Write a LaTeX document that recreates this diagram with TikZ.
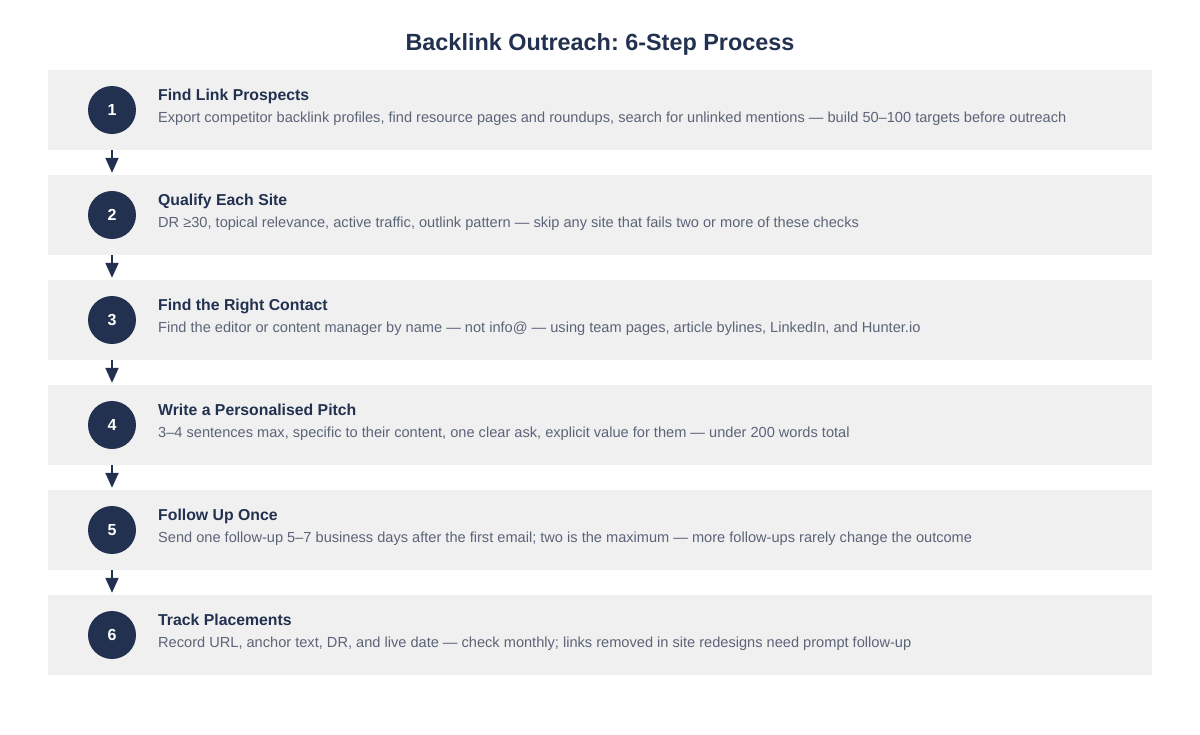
\documentclass[tikz,border=0pt]{standalone}
\usepackage{fontspec}
\setmainfont{Liberation Sans}
\usetikzlibrary{arrows.meta}
\definecolor{navy}{HTML}{22314F}
\definecolor{bandgray}{HTML}{F0F0F0}
\definecolor{descgray}{HTML}{5B6478}
\frenchspacing
\begin{document}
\begin{tikzpicture}[x=1pt, y=-1pt,
  title/.style={text=navy, font=\bfseries\fontsize{23.4}{23.4}\selectfont},
  band/.style={fill=bandgray, draw=none, minimum width=1104pt, minimum height=80pt, inner sep=0pt},
  stepnum/.style={circle, fill=navy, minimum size=48pt, inner sep=0pt, text=white, font=\bfseries\fontsize{16}{16}\selectfont},
  steptitle/.style={anchor=base west, inner sep=0pt, text=navy, font=\bfseries\fontsize{15.8}{15.8}\selectfont},
  stepdesc/.style={anchor=base west, inner sep=0pt, text=descgray, font=\fontsize{14.6}{14.6}\selectfont},
  flow/.style={draw=navy, line width=2pt, -{Triangle[length=15pt, width=13pt]}}]
\useasboundingbox (0,0) rectangle (1200,734);
\node at (600,44) [title] (title) {Backlink Outreach: 6-Step Process};
% step bands
\node at (600,110) [band] (b1) {};
\node at (600,215) [band] (b2) {};
\node at (600,320) [band] (b3) {};
\node at (600,425) [band] (b4) {};
\node at (600,530) [band] (b5) {};
\node at (600,635) [band] (b6) {};
% step 1
\node at (112,110) [stepnum] (n1) {1};
\node at (158,100) [steptitle] (t1) {Find Link Prospects};
\node at (158,122) [stepdesc] (d1) {Export competitor backlink profiles, find resource pages and roundups, search for unlinked mentions — build 50–100 targets before outreach};
% step 2
\node at (112,215) [stepnum] (n2) {2};
\node at (158,205) [steptitle] (t2) {Qualify Each Site};
\node at (158,227) [stepdesc] (d2) {DR ≥30, topical relevance, active traffic, outlink pattern — skip any site that fails two or more of these checks};
% step 3
\node at (112,320) [stepnum] (n3) {3};
\node at (158,310) [steptitle] (t3) {Find the Right Contact};
\node at (158,332) [stepdesc] (d3) {Find the editor or content manager by name — not info@ — using team pages, article bylines, LinkedIn, and Hunter.io};
% step 4
\node at (112,425) [stepnum] (n4) {4};
\node at (158,415) [steptitle] (t4) {Write a Personalised Pitch};
\node at (158,437) [stepdesc] (d4) {3–4 sentences max, specific to their content, one clear ask, explicit value for them — under 200 words total};
% step 5
\node at (112,530) [stepnum] (n5) {5};
\node at (158,520) [steptitle] (t5) {Follow Up Once};
\node at (158,542) [stepdesc] (d5) {Send one follow-up 5–7 business days after the first email; two is the maximum — more follow-ups rarely change the outcome};
% step 6
\node at (112,635) [stepnum] (n6) {6};
\node at (158,625) [steptitle] (t6) {Track Placements};
\node at (158,647) [stepdesc] (d6) {Record URL, anchor text, DR, and live date — check monthly; links removed in site redesigns need prompt follow-up};
% arrows between bands
\draw[flow] (b1.south -| n1) -- ([yshift=2pt]b2.north -| n2);
\draw[flow] (b2.south -| n2) -- ([yshift=2pt]b3.north -| n3);
\draw[flow] (b3.south -| n3) -- ([yshift=2pt]b4.north -| n4);
\draw[flow] (b4.south -| n4) -- ([yshift=2pt]b5.north -| n5);
\draw[flow] (b5.south -| n5) -- ([yshift=2pt]b6.north -| n6);
\end{tikzpicture}
\end{document}
